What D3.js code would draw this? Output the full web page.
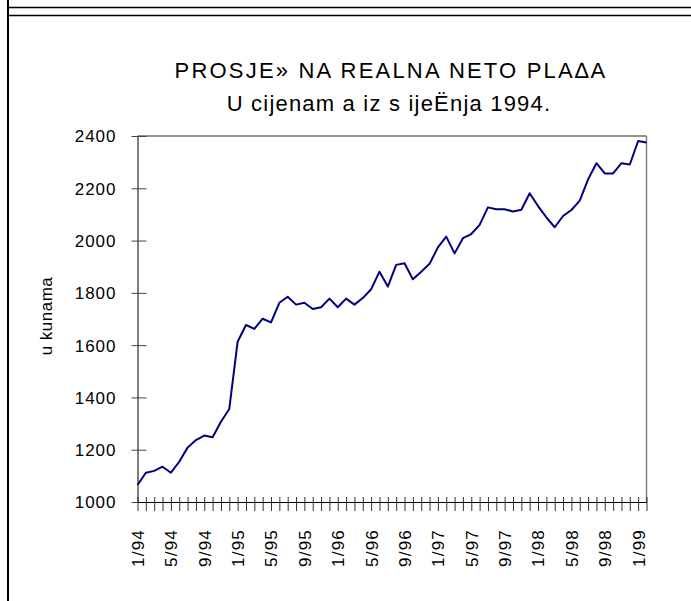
<!DOCTYPE html>
<html>
<head>
<meta charset="utf-8">
<script src="https://cdn.jsdelivr.net/npm/d3@7"></script>
<style>
  body { margin: 0; background: #fff; }
  svg, svg text { font-family: "Liberation Sans", Arial, sans-serif; }
  svg { display: block; }
</style>
</head>
<body>
<svg width="691" height="601"></svg>
<script>
// Podaci - prosječna realna neto plaća, mjesečno od 1/94 do 2/99
const months = [];
for (let y = 94; y <= 99; y++) {
  for (let m = 1; m <= 12; m++) {
    if (y === 99 && m > 2) break;
    months.push(m + "/" + y);
  }
}
const values = [
  1065, 1112, 1119, 1135, 1112, 1154, 1208, 1237, 1254, 1248, 1307, 1356,
  1613, 1677, 1662, 1701, 1687, 1762, 1785, 1755, 1762, 1738, 1745, 1778,
  1745, 1778, 1755, 1780, 1814, 1881, 1824, 1907, 1913, 1852, 1881, 1911,
  1974, 2015, 1951, 2009, 2025, 2060, 2127, 2120, 2120, 2111, 2118, 2181,
  2132, 2089, 2051, 2094, 2117, 2153, 2234, 2296, 2257, 2257, 2296, 2291,
  2381, 2375
];
const yTicks = [1000, 1200, 1400, 1600, 1800, 2000, 2200, 2400];
const labelMonths = months.filter((d, i) => i % 4 === 0);

const svg = d3.select("svg");
const plot = { left: 137.5, right: 646.5, top: 136, bottom: 502 };

// Okvir
svg.append("line").attr("x1", 8).attr("x2", 8).attr("y1", 0).attr("y2", 601)
   .attr("stroke", "#000").attr("stroke-width", 2);
[7.5, 15.5].forEach(y => {
  svg.append("line").attr("x1", 8).attr("x2", 691).attr("y1", y).attr("y2", y)
     .attr("stroke", "#000").attr("stroke-width", 1.6);
});

// Naslov
svg.append("text").attr("x", 391).attr("y", 78).attr("text-anchor", "middle")
   .style("font-size", "22px").style("letter-spacing", "2.2px")
   .text("PROSJE» NA REALNA NETO PLA∆A");
svg.append("text").attr("x", 389).attr("y", 111).attr("text-anchor", "middle")
   .style("font-size", "22px").style("letter-spacing", "1.2px")
   .text("U cijenam a iz s ijeËnja 1994.");

const x = d3.scalePoint().domain(months).range([plot.left, plot.right]);
const y = d3.scaleLinear().domain([1000, 2400]).range([plot.bottom, plot.top]);

// Gornji i desni rub
svg.append("line").attr("x1", plot.left).attr("x2", plot.right)
   .attr("y1", plot.top).attr("y2", plot.top).attr("stroke", "#222");
svg.append("line").attr("x1", plot.right).attr("x2", plot.right)
   .attr("y1", plot.top).attr("y2", plot.bottom).attr("stroke", "#808080").attr("stroke-width", 1.5);

// Y os
const yAxis = svg.append("g").attr("transform", `translate(${plot.left},0)`)
  .call(d3.axisLeft(y).tickValues(yTicks).tickFormat(d3.format("d")).tickSize(0).tickPadding(21));
yAxis.attr("font-family", null).attr("font-size", null);
yAxis.select(".domain").attr("stroke", "#000");
yAxis.selectAll(".tick line").attr("x1", -6).attr("x2", 9).attr("stroke", "#444");
yAxis.selectAll("text").style("font-size", "17px").style("letter-spacing", "1px")
  .attr("fill", "#000").attr("dy", "0.35em");

// X os
const xAxis = svg.append("g").attr("transform", `translate(0,${plot.bottom})`)
  .call(d3.axisBottom(x).tickSize(0).tickFormat(d => labelMonths.includes(d) ? d : ""));
xAxis.attr("font-family", null).attr("font-size", null);
xAxis.select(".domain").attr("stroke", "#000");
xAxis.selectAll(".tick line").attr("y1", -5).attr("y2", 9).attr("stroke", "#333");
xAxis.selectAll("text")
  .style("font-size", "17px").style("letter-spacing", "1.2px").attr("fill", "#000")
  .attr("text-anchor", "end")
  .attr("transform", "translate(0,27) rotate(-90)")
  .attr("x", 0).attr("y", 0).attr("dy", "0.35em");

// Naslov osi
svg.append("text").attr("transform", "translate(46,316) rotate(-90)")
   .attr("text-anchor", "middle").attr("dy", "0.35em")
   .style("font-size", "17px").style("letter-spacing", "0.5px")
   .text("u kunama");

// Linija
const line = d3.line().x((d, i) => x(months[i])).y(d => y(d));
svg.append("path").datum(values)
   .attr("fill", "none").attr("stroke", "#000080").attr("stroke-width", 2)
   .attr("stroke-linejoin", "round")
   .attr("d", line);
</script>
</body>
</html>
